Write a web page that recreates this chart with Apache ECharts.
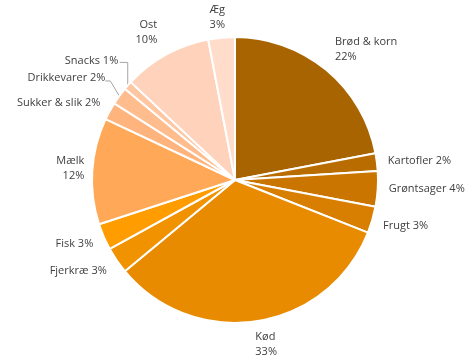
<!DOCTYPE html>
<html><head><meta charset="utf-8">
<script src="https://cdn.jsdelivr.net/npm/echarts@6/dist/echarts.min.js"></script>
<style>html,body{margin:0;padding:0;background:#fff}#c{width:475px;height:360px}</style>
</head><body><div id="c"></div>
<script>
const categories = ['Brød & korn','Kartofler','Grøntsager','Frugt','Kød','Fjerkræ','Fisk','Mælk','Sukker & slik','Drikkevarer','Snacks','Ost','Æg'];
const values = [22,2,4,3,33,3,3,12,2,2,1,10,3];
const colors = ['#A86400','#B96C00','#C97500','#D87E00','#E88B00','#F19200','#FF9C00','#FFA858','#FFB47E','#FFBD8E','#FFC6A2','#FFD3BB','#FFDDCA'];
const twoLine = ['Brød & korn','Kød','Mælk','Ost','Æg'];
const leader = ['Drikkevarer','Snacks'];
// label nudges (style only)
const labelOffsets = {
  'Brød & korn':[0,-16], 'Æg':[9,-14], 'Ost':[-1,-17], 'Mælk':[3,-2], 'Kød':[-8,17],
  'Fisk':[0,5], 'Fjerkræ':[0,7], 'Frugt':[0,4], 'Sukker & slik':[1,-5], 'Drikkevarer':[-4,-15], 'Snacks':[0,-21]
};
// leader line bends relative to the slice edge anchor (style only)
const leaderBends = {
  'Drikkevarer':[[-9,-15],[-14,-15]],
  'Snacks':[[0,-23],[-8,-23]]
};

const data = categories.map((c,i)=>({
  name:c, value:values[i], itemStyle:{color:colors[i]},
  labelLine:{show: leader.includes(c)}
}));

const chart = echarts.init(document.getElementById('c'));
chart.setOption({
  animation:false,
  series:[{
    type:'pie', center:[235,180], radius:[0,143], startAngle:90, clockwise:true,
    avoidLabelOverlap:false,
    itemStyle:{borderColor:'#fff', borderWidth:2},
    label:{show:true, position:'outside', color:'#404040', fontFamily:'Open Sans', fontSize:11, lineHeight:15,
      formatter:p=> twoLine.includes(p.name) ? p.name+'\n'+p.value+'%' : p.name+' '+p.value+'%'},
    labelLine:{lineStyle:{color:'#a6a6a6', width:1}, length:6, length2:0},
    labelLayout:function(p){
      const name = categories[p.dataIndex];
      const o = labelOffsets[name];
      const res = {hideOverlap:false, dx:o?o[0]:0, dy:o?o[1]:0};
      const b = leaderBends[name];
      if (b && p.labelLinePoints) {
        const a = p.labelLinePoints[0];
        res.labelLinePoints = [[a[0],a[1]],[a[0]+b[0][0],a[1]+b[0][1]],[a[0]+b[1][0],a[1]+b[1][1]]];
      }
      return res;
    },
    data:data
  }]
});
</script></body></html>
